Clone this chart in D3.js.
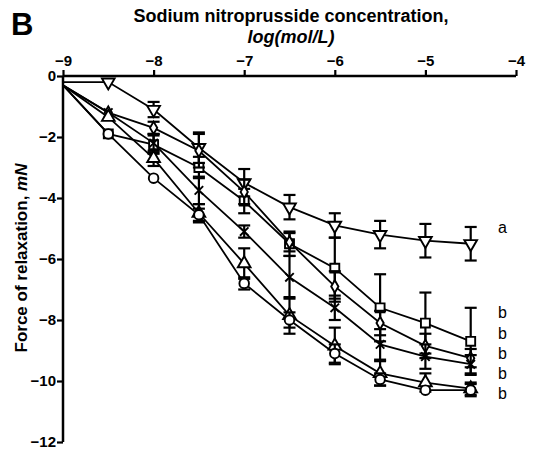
<!DOCTYPE html>
<html>
<head>
<meta charset="utf-8">
<script src="https://cdn.jsdelivr.net/npm/d3@7"></script>
<style>
  body { margin: 0; background: #fff; }
  text { font-family: "Liberation Sans", Arial, sans-serif; }
</style>
</head>
<body>
<div id="chart"></div>
<script>
// log concentrations (first point = baseline, drawn without symbol)
var logConc = [-9, -8.5, -8, -7.5, -7, -6.5, -6, -5.5, -5, -4.5];

// mean force of relaxation (mN)
var triDownVals = [-0.2, -0.2, -1.1, -2.35, -3.5, -4.3, -4.9, -5.2, -5.4, -5.5];
var squareVals  = [-0.3, -1.9, -2.25, -3.0, -4.1, -5.5, -6.3, -7.6, -8.1, -8.7];
var diamondVals = [-0.3, -1.2, -1.7, -2.45, -3.8, -5.45, -6.9, -8.1, -8.85, -9.25];
var crossVals   = [-0.3, -1.2, -2.2, -3.75, -5.1, -6.6, -7.6, -8.8, -9.2, -9.45];
var triUpVals   = [-0.3, -1.35, -2.7, -4.5, -6.15, -7.85, -8.85, -9.75, -10.05, -10.25];
var circleVals  = [-0.3, -1.9, -3.35, -4.55, -6.8, -8.0, -9.1, -9.95, -10.3, -10.3];

// SEM
var triDownSem = [0, 0.05, 0.25, 0.5, 0.45, 0.4, 0.4, 0.45, 0.55, 0.55];
var squareSem  = [0, 0.1, 0.3, 0.35, 0.4, 0.4, 1.0, 1.1, 1.0, 1.1];
var diamondSem = [0, 0.1, 0.2, 0.55, 0.4, 0.3, 0.5, 0.4, 0.4, 0.3];
var crossSem   = [0, 0.1, 0.3, 0.45, 0.2, 0.7, 0.4, 0.5, 0.4, 0.3];
var triUpSem   = [0, 0.1, 0.25, 0.3, 0.5, 0.6, 0.6, 0.4, 0.3, 0.2];
var circleSem  = [0, 0.1, 0.15, 0.2, 0.2, 0.25, 0.3, 0.2, 0.15, 0.2];

// significance letters and where they sit (mN)
var sigLetters = ["a", "b", "b", "b", "b", "b"];
var sigLetterY = [-4.95, -7.75, -8.45, -9.1, -9.75, -10.4];

var xTicks = [-9, -8, -7, -6, -5, -4];
var yTicks = [0, -2, -4, -6, -8, -10, -12];

var width = 535, height = 450;

var x = d3.scaleLinear().domain([-9, -4]).range([63, 516]);
var y = d3.scaleLinear().domain([0, -12]).range([76, 442]);

var svg = d3.select("#chart").append("svg")
    .attr("width", width)
    .attr("height", height);

// panel letter and titles
svg.append("text").attr("x", 11).attr("y", 35)
    .style("font-size", "31px").style("font-weight", "bold").text("B");

svg.append("text").attr("x", 291).attr("y", 22).attr("text-anchor", "middle")
    .style("font-size", "18px").style("font-weight", "bold")
    .text("Sodium nitroprusside concentration,");
svg.append("text").attr("x", 291).attr("y", 43).attr("text-anchor", "middle")
    .style("font-size", "18px").style("font-weight", "bold").style("font-style", "italic")
    .text("log(mol/L)");

var yl = svg.append("text")
    .attr("transform", "translate(27," + 258 + ") rotate(-90)")
    .attr("text-anchor", "middle")
    .style("font-size", "17px").style("font-weight", "bold");
yl.append("tspan").text("Force of relaxation, ");
yl.append("tspan").style("font-style", "italic").text("mN");

// axes
var xAxis = svg.append("g")
    .attr("transform", "translate(0," + y(0) + ")")
    .call(d3.axisTop(x).tickValues(xTicks).tickSize(6).tickPadding(4).tickFormat(d3.format("d")));
var yAxis = svg.append("g")
    .attr("transform", "translate(" + x(-9) + ",0)")
    .call(d3.axisLeft(y).tickValues(yTicks).tickSize(6).tickPadding(1).tickFormat(d3.format("d")));

[xAxis, yAxis].forEach(function(g) {
  g.select(".domain").attr("stroke-width", 2.5);
  g.selectAll(".tick line").attr("stroke-width", 2.2);
  g.selectAll(".tick text")
    .style("font-family", "'Liberation Sans', Arial, sans-serif")
    .style("font-size", "15px").style("font-weight", "bold").attr("fill", "#000");
});
xAxis.select(".domain").attr("d", "M" + x(-9) + ",0H" + x(-4));
yAxis.select(".domain").attr("d", "M0," + y(0) + "V" + y(-12));

// series
var timesPath = {
  draw: function(ctx, size) {
    var r = Math.sqrt(size) / 2;
    ctx.moveTo(-r, -r); ctx.lineTo(r, r);
    ctx.moveTo(r, -r); ctx.lineTo(-r, r);
  }
};

var series = [
  {vals: triDownVals, sem: triDownSem, sym: d3.symbolTriangle, size: 70, rot: 180},
  {vals: squareVals,  sem: squareSem,  sym: d3.symbolSquare,   size: 80, rot: 0},
  {vals: diamondVals, sem: diamondSem, sym: d3.symbolDiamond,  size: 45, rot: 0},
  {vals: crossVals,   sem: crossSem,   sym: timesPath,         size: 72, rot: 0},
  {vals: triUpVals,   sem: triUpSem,   sym: d3.symbolTriangle, size: 70, rot: 0},
  {vals: circleVals,  sem: circleSem,  sym: d3.symbolCircle,   size: 72, rot: 0}
];

var line = d3.line()
    .x(function(d) { return x(d.x); })
    .y(function(d) { return y(d.y); });

var capW = 6;

series.forEach(function(s) {
  var pts = logConc.map(function(c, i) { return {x: c, y: s.vals[i], e: s.sem[i]}; });

  svg.append("path").datum(pts)
      .attr("d", line)
      .attr("fill", "none").attr("stroke", "#000").attr("stroke-width", 1.8);

  var eb = svg.append("g").selectAll("g")
      .data(pts.filter(function(d) { return d.e > 0.15; }))
    .enter().append("g").attr("stroke", "#000").attr("stroke-width", 2.2);
  eb.append("line")
      .attr("x1", function(d) { return x(d.x); }).attr("x2", function(d) { return x(d.x); })
      .attr("y1", function(d) { return y(d.y - d.e); }).attr("y2", function(d) { return y(d.y + d.e); });
  eb.append("line")
      .attr("x1", function(d) { return x(d.x) - capW; }).attr("x2", function(d) { return x(d.x) + capW; })
      .attr("y1", function(d) { return y(d.y + d.e); }).attr("y2", function(d) { return y(d.y + d.e); });
  eb.append("line")
      .attr("x1", function(d) { return x(d.x) - capW; }).attr("x2", function(d) { return x(d.x) + capW; })
      .attr("y1", function(d) { return y(d.y - d.e); }).attr("y2", function(d) { return y(d.y - d.e); });

  svg.append("g").selectAll("path")
      .data(pts.slice(1))
    .enter().append("path")
      .attr("d", d3.symbol().type(s.sym).size(s.size))
      .attr("transform", function(d) {
        return "translate(" + x(d.x) + "," + y(d.y) + ") rotate(" + s.rot + ")";
      })
      .attr("fill", "#fff").attr("stroke", "#000").attr("stroke-width", 1.9);
});

// significance letters
svg.append("g").selectAll("text")
    .data(sigLetters)
  .enter().append("text")
    .attr("x", x(-4.2))
    .attr("y", function(d, i) { return y(sigLetterY[i]); })
    .attr("dy", "0.35em")
    .style("font-size", "16px")
    .text(function(d) { return d; });
</script>
</body>
</html>
